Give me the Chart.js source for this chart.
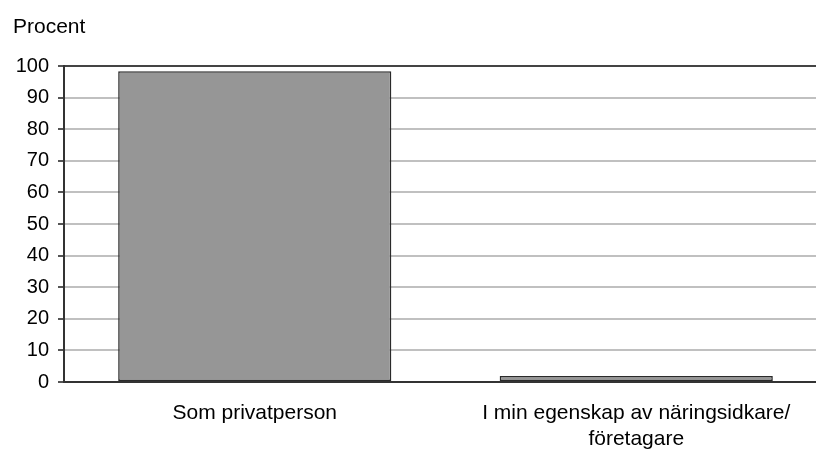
<!DOCTYPE html>
<html>
<head>
<meta charset="utf-8">
<script src="https://cdn.jsdelivr.net/npm/chart.js@4/dist/chart.umd.min.js"></script>
<style>
  html, body { margin: 0; padding: 0; background: #fff; overflow: hidden; }
  #wrap { width: 816px; height: 452px; overflow: hidden; }
  #box { width: 830px; height: 452px; }
</style>
</head>
<body>
<div id="wrap"><div id="box"><canvas id="chart"></canvas></div></div>
<script>
// data
const categories = ['Som privatperson', ['I min egenskap av näringsidkare/', 'företagare']];
const values = [98.4, 1.9];
const yTitle = 'Procent';
const yMin = 0;
const yMax = 100;
const yStep = 10;

Chart.defaults.font.family = '"Liberation Sans", Arial, sans-serif';
Chart.defaults.color = '#000';

const ctx = document.getElementById('chart').getContext('2d');
new Chart(ctx, {
    type: 'bar',
    data: {
        labels: categories,
        datasets: [{
            data: values,
            backgroundColor: '#969696',
            borderColor: '#2a2a2a',
            borderWidth: 1.5,
            borderSkipped: false,
            barPercentage: 0.716,
            categoryPercentage: 1
        }]
    },
    options: {
        responsive: true,
        maintainAspectRatio: false,
        animation: false,
        layout: { padding: { left: 13, right: 3, top: 0, bottom: 0 } },
        plugins: {
            legend: { display: false },
            tooltip: { enabled: false },
            title: {
                display: true,
                text: yTitle,
                align: 'start',
                color: '#000',
                font: { size: 21, weight: 'normal', lineHeight: 1.15 },
                padding: { top: 15, bottom: 27 }
            }
        },
        scales: {
            x: {
                grid: { display: false },
                border: { color: '#333333', width: 2 },
                ticks: {
                    color: '#000',
                    font: { size: 21, lineHeight: 1.25 },
                    padding: 10,
                    maxRotation: 0,
                    autoSkip: false
                },
                afterFit: scale => { scale.height = 70; }
            },
            y: {
                min: yMin,
                max: yMax,
                grid: {
                    color: c => (c.tick && c.tick.value === yMax ? '#444444' : '#c0c0c0'),
                    lineWidth: 2,
                    tickColor: '#555555',
                    tickLength: 6,
                    drawTicks: true
                },
                border: { color: '#333333', width: 2 },
                ticks: {
                    stepSize: yStep,
                    color: '#000',
                    font: { size: 20 },
                    padding: 9
                },
                afterFit: scale => { scale.width = 51; }
            }
        }
    }
});
</script>
</body>
</html>
